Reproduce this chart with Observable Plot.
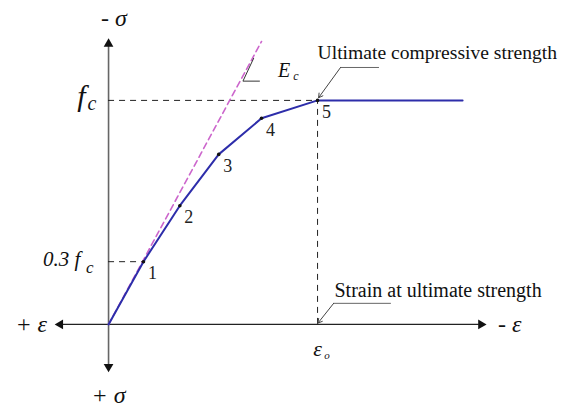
<!DOCTYPE html>
<html><head><meta charset="utf-8">
<script src="https://cdn.jsdelivr.net/npm/d3@7"></script>
<script src="https://cdn.jsdelivr.net/npm/@observablehq/plot@0.6"></script>
<style>body{margin:0;background:#fff}#c{width:562px;height:407px}</style>
</head><body><div id="c"></div>
<script>
// stress-strain curve (strain normalised by eps_o, stress by f_c)
const strain = [0, 0.167, 0.341, 0.527, 0.732, 1.0, 1.694];
const stress = [0, 0.28, 0.53, 0.759, 0.92, 1.0, 1.0];
const pointLabels = ["", "1", "2", "3", "4", "5", ""];
// initial tangent modulus line E_c
const ecStrain = [0, 0.732];
const ecStress = [0, 1.263];
// axis extents
const axisStrain = [-0.253, 1.804];
const axisStress = [-0.214, 1.277];

const curve = strain.map((x, i) => ({x, y: stress[i], label: pointLabels[i]}));
const ec = ecStrain.map((x, i) => ({x, y: ecStress[i]}));
const inner = curve.slice(1, 6);

const serif = "'Liberation Serif', 'Times New Roman', serif";
const T = (x, y, text, o = {}) => Plot.text([{x, y}], {x: "x", y: "y", text: () => text, fontFamily: serif, fill: "#111", ...o});

const chart = Plot.plot({
  width: 562, height: 407, margin: 0,
  x: {domain: [-0.517, 2.172], axis: null},
  y: {domain: [-0.371, 1.446], axis: null},
  style: {background: "#fff", fontFamily: serif},
  marks: [
    // axes
    Plot.ruleX([0], {y1: axisStress[0] + 0.03, y2: axisStress[1] - 0.03, stroke: "#666", strokeWidth: 1.6}),
    Plot.ruleY([0], {x1: axisStrain[0] + 0.03, x2: axisStrain[1] - 0.03, stroke: "#222", strokeWidth: 1.4}),
    Plot.dot([{x: 0, y: axisStress[1] - 0.025}], {x: "x", y: "y", symbol: "triangle", r: 3.6, fill: "#111", rotate: 0}),
    Plot.dot([{x: 0, y: axisStress[0] + 0.025}], {x: "x", y: "y", symbol: "triangle", r: 3.6, fill: "#111", rotate: 180}),
    Plot.dot([{x: axisStrain[0] + 0.022, y: 0}], {x: "x", y: "y", symbol: "triangle", r: 3.6, fill: "#111", rotate: -90}),
    Plot.dot([{x: axisStrain[1] - 0.022, y: 0}], {x: "x", y: "y", symbol: "triangle", r: 3.6, fill: "#111", rotate: 90}),
    // reference dashed lines
    Plot.ruleY([stress[5]], {x1: 0, x2: strain[5], stroke: "#222", strokeDasharray: "6,5", strokeWidth: 1}),
    Plot.ruleY([stress[1]], {x1: 0, x2: strain[1], stroke: "#222", strokeDasharray: "6,5", strokeWidth: 1}),
    Plot.ruleX([strain[5]], {y1: 0, y2: stress[5], stroke: "#222", strokeDasharray: "6,5", strokeWidth: 1}),
    // E_c tangent
    Plot.line(ec, {x: "x", y: "y", stroke: "#cc66cc", strokeWidth: 1.6, strokeDasharray: "6,4"}),
    Plot.line([{x: 0.694, y: 1.1875}, {x: 0.643, y: 1.086}, {x: 0.722, y: 1.086}], {x: "x", y: "y", stroke: "#333", strokeWidth: 1}),
    // curve
    Plot.line(curve, {x: "x", y: "y", stroke: "#2d2daa", strokeWidth: 2}),
    Plot.dot(inner, {x: "x", y: "y", r: 1.8, fill: "#111"}),
    Plot.text(inner, {x: "x", y: "y", text: "label", dx: 9, dy: 12, fontFamily: serif, fontSize: 18, fill: "#222"}),
    // leaders
    Plot.line([{x: 1.292, y: 1.147}, {x: 1.110, y: 1.147}], {x: "x", y: "y", stroke: "#666", strokeWidth: 1}),
    Plot.arrow([{x1: 1.110, y1: 1.147, x2: 1.005, y2: 1.012}], {x1: "x1", y1: "y1", x2: "x2", y2: "y2", stroke: "#444", strokeWidth: 1, headLength: 7}),
    Plot.line([{x: 1.349, y: 0.094}, {x: 1.077, y: 0.094}], {x: "x", y: "y", stroke: "#666", strokeWidth: 1}),
    Plot.arrow([{x1: 1.077, y1: 0.094, x2: 1.002, y2: 0.006}], {x1: "x1", y1: "y1", x2: "x2", y2: "y2", stroke: "#444", strokeWidth: 1, headLength: 7}),
    // annotations
    T(1.0, 1.214, "Ultimate compressive strength", {textAnchor: "start", fontSize: 19.6}),
    T(1.081, 0.152, "Strain at ultimate strength", {textAnchor: "start", fontSize: 20}),
    T(0.84, 1.134, "E", {fontStyle: "italic", fontSize: 20}),
    T(0.897, 1.108, "c", {fontStyle: "italic", fontSize: 12}),
    T(-0.13, 1.02, "f", {fontStyle: "italic", fontSize: 30}),
    T(-0.08, 0.985, "c", {fontStyle: "italic", fontSize: 20}),
    T(-0.135, 0.29, "0.3 f", {fontStyle: "italic", fontSize: 21, textAnchor: "end"}),
    T(-0.09, 0.255, "c", {fontStyle: "italic", fontSize: 17}),
    T(0.026, 1.366, "- σ", {fontStyle: "italic", fontSize: 24}),
    T(0.0, -0.318, "+ σ", {fontStyle: "italic", fontSize: 24}),
    T(-0.37, 0.002, "+ ε", {fontStyle: "italic", fontSize: 24}),
    T(1.92, 0.002, "- ε", {fontStyle: "italic", fontSize: 24}),
    T(1.0, -0.11, "ε", {fontStyle: "italic", fontSize: 22}),
    T(1.045, -0.14, "o", {fontStyle: "italic", fontSize: 11})
  ]
});
document.getElementById("c").append(chart);
</script>
</body></html>
